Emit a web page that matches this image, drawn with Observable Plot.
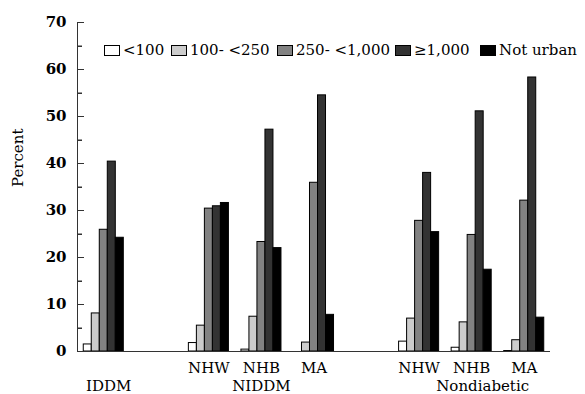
<!DOCTYPE html>
<html><head><meta charset="utf-8">
<script src="https://cdn.jsdelivr.net/npm/d3@7"></script>
<script src="https://cdn.jsdelivr.net/npm/@observablehq/plot@0.6"></script>
<style>
body{margin:0;background:#fff}
#wrap{position:relative;width:585px;height:394px;overflow:hidden;font-family:"DejaVu Serif",serif;color:#000}
#legend{position:absolute;top:0;left:0;font-size:15px;line-height:15px;white-space:nowrap}
#legend .item{position:absolute;top:43px;display:flex;align-items:center}
#legend .sw{width:14px;height:9px;border:1px solid #000;margin-right:3px}
.axisline{position:absolute;background:#333;pointer-events:none}
</style></head><body><div id="wrap"></div>
<script>
const categories = ["<100", "100- <250", "250- <1,000", "\u22651,000", "Not urban"];
const colors = ["#ffffff", "#cccccc", "#828282", "#333333", "#000000"];
const slots = ["IDDM", "gap1", "NIDDM NHW", "NIDDM NHB", "NIDDM MA", "gap2", "Nondiabetic NHW", "Nondiabetic NHB", "Nondiabetic MA"];
const slotLabels = ["", "", "NHW", "NHB", "MA", "", "NHW", "NHB", "MA"];
const groups = ["IDDM", "NIDDM", "Nondiabetic"];
const groupSlots = ["IDDM", "NIDDM NHB", "Nondiabetic NHB"];
const majorTicks = [0, 10, 20, 30, 40, 50, 60, 70];
const minorTicks = [5, 15, 25, 35, 45, 55, 65];
const yLabel = "Percent";

// values per slot, in category order (<100, 100-<250, 250-<1,000, ≥1,000, Not urban)
const iddm           = [1.5, 8.1, 25.9, 40.4, 24.2];
const niddmNHW       = [1.8, 5.5, 30.4, 30.9, 31.6];
const niddmNHB       = [0.4, 7.4, 23.3, 47.2, 22.0];
const niddmMA        = [null, 1.9, 35.9, 54.5, 7.8];
const nondiabNHW     = [2.1, 7.0, 27.8, 38.0, 25.4];
const nondiabNHB     = [0.8, 6.2, 24.8, 51.1, 17.4];
const nondiabMA      = [0.1, 2.4, 32.1, 58.3, 7.2];

const series = {
  "IDDM": iddm, "NIDDM NHW": niddmNHW, "NIDDM NHB": niddmNHB, "NIDDM MA": niddmMA,
  "Nondiabetic NHW": nondiabNHW, "Nondiabetic NHB": nondiabNHB, "Nondiabetic MA": nondiabMA
};
const rows = [];
for (const [slot, vals] of Object.entries(series)) {
  vals.forEach((v, i) => { if (v != null) rows.push({slot, cat: categories[i], value: v}); });
}
const slotRows = slots.map((s, i) => ({slot: s, label: slotLabels[i]}));
const groupDx = [5, 0, 11];
const legendLeft = [104, 171, 277, 395, 480];

const W = 585, H = 394, mL = 77, mR = 35, mT = 22, mB = 43;
const facetWidth = (W - mL - mR) / slots.length;
const axisColor = "#333";
const firstSlot = () => slots[0];

const chart = Plot.plot({
  width: W, height: H,
  marginLeft: mL, marginRight: mR, marginTop: mT, marginBottom: mB,
  style: {fontFamily: '"DejaVu Serif", serif', fontSize: "15px", background: "white", color: "black", overflow: "visible"},
  fx: {domain: slots, paddingInner: 0, paddingOuter: 0, round: false, axis: null},
  x: {domain: categories, paddingInner: 0, paddingOuter: 0.78125, round: false, axis: null},
  y: {domain: [0, 70], axis: null},
  color: {domain: categories, range: colors},
  marks: [
    Plot.rect([0], {y1: d => d, y2: d => d, insetBottom: -1, fill: axisColor}),
    Plot.barY(rows, {fx: "slot", x: "cat", y: "value", fill: "cat", stroke: "black", strokeWidth: 1}),
    Plot.rect([0], {fx: firstSlot, y1: 0, y2: 70, insetRight: facetWidth - 1, fill: axisColor}),
    Plot.rect(majorTicks, {fx: firstSlot, y1: d => d, y2: d => d, insetBottom: -1, insetRight: facetWidth - 7, fill: axisColor}),
    Plot.rect(minorTicks, {fx: firstSlot, y1: d => d, y2: d => d, insetBottom: -1, insetRight: facetWidth - 5, fill: axisColor}),
    Plot.axisY({ticks: majorTicks, tickSize: 0, tickPadding: 11, fontWeight: "bold", fontSize: 15, label: null}),
    Plot.text([yLabel], {text: d => d, frameAnchor: "left", rotate: -90, dx: -59, fontSize: 15, facet: "super"}),
    Plot.text(slotRows, {fx: "slot", text: "label", frameAnchor: "bottom", lineAnchor: "bottom", dy: 21, fontSize: 15}),
    ...groups.map((g, i) => Plot.text([g], {fx: () => groupSlots[i], text: d => d, frameAnchor: "bottom", lineAnchor: "bottom", dy: 39, dx: groupDx[i], fontSize: 15}))
  ]
});
const wrap = document.getElementById("wrap");
wrap.appendChild(chart);

// axis line, baseline and inward ticks, placed with Plot's own y scale
const ys = chart.scale("y");
function addLine(left, top, width, height) {
  const d = document.createElement("div");
  d.className = "axisline";
  d.style.left = left + "px"; d.style.top = top + "px";
  d.style.width = width + "px"; d.style.height = height + "px";
  wrap.appendChild(d);
}
const y0 = ys.apply(0), yTop = ys.apply(70);
addLine(mL, yTop, 1, y0 - yTop + 1);
addLine(mL, y0, W - mL - mR, 1);
majorTicks.forEach(t => addLine(mL, ys.apply(t), 7, 1));
minorTicks.forEach(t => addLine(mL, ys.apply(t), 5, 1));

const legend = document.createElement("div");
legend.id = "legend";
categories.forEach((c, i) => {
  const it = document.createElement("div"); it.className = "item"; it.style.left = legendLeft[i] + "px";
  const sw = document.createElement("div"); sw.className = "sw"; sw.style.background = colors[i];
  const tx = document.createElement("span"); tx.textContent = c;
  it.appendChild(sw); it.appendChild(tx); legend.appendChild(it);
});
wrap.appendChild(legend);
</script></body></html>
